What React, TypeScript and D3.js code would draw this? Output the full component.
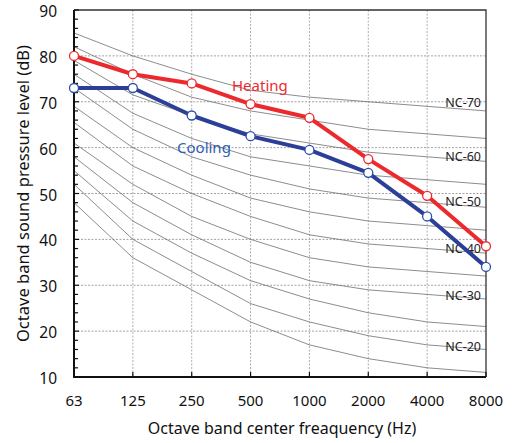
import React from "react";
import * as d3 from "d3";

const frequencies = ["63", "125", "250", "500", "1000", "2000", "4000", "8000"];
const heating = [80, 76, 74, 69.5, 66.5, 57.5, 49.5, 38.5];
const cooling = [73, 73, 67, 62.5, 59.5, 54.5, 45, 34];
const ncNames = ["NC-15", "NC-20", "NC-25", "NC-30", "NC-35", "NC-40", "NC-45", "NC-50", "NC-55", "NC-60", "NC-65", "NC-70"];
const ncValues = [
  [48, 36, 29, 22, 17, 14, 12, 11],
  [52, 40, 33, 26, 22, 19, 17, 16],
  [55, 44, 37, 31, 27, 24, 22, 21],
  [58, 48, 41, 35, 31, 29, 28, 27],
  [61, 52, 45, 40, 36, 34, 33, 32],
  [65.5, 56, 50, 45, 41, 39, 38, 37],
  [69, 60, 54, 49, 46, 44, 43, 42],
  [73, 64, 58, 54, 51, 49, 48, 47],
  [76, 67.5, 62, 58, 56, 54, 53, 52],
  [79, 71.5, 67, 63, 61, 59, 58, 57],
  [82, 76, 71, 68, 66, 64, 63, 62],
  [85, 80, 76, 72.5, 71, 70, 69, 68],
];
const ncLabels = ["NC-20", "NC-30", "NC-40", "NC-50", "NC-60", "NC-70"];
const ncLabelY = [16.6, 27.7, 38.1, 48.2, 58, 69.9];
const yTicks = [10, 20, 30, 40, 50, 60, 70, 80, 90];

const W = 513, H = 443;
const m = { left: 74, right: 486, top: 10, bottom: 377 };
const FONT = "'Noto Sans', 'Open Sans', sans-serif";

export default function App() {
  const x = d3.scalePoint<string>().domain(frequencies).range([m.left, m.right]).padding(0);
  const y = d3.scaleLinear().domain([10, 90]).range([m.bottom, m.top]);
  const line = d3.line<number>().x((_, i) => x(frequencies[i]) as number).y((d) => y(d));
  const minor = d3.range(10, 91, 2);

  return (
    <svg width={W} height={H} style={{ position: "absolute", left: 0, top: 0, background: "#fff" }} fontFamily={FONT}>
      {/* grid */}
      {yTicks.slice(1, -1).map((t) => (
        <line key={"gy" + t} x1={m.left} x2={m.right} y1={y(t)} y2={y(t)} stroke="#8a8a8a" strokeWidth={0.8} strokeDasharray="2,1.5" />
      ))}
      {frequencies.slice(1, -1).map((f) => (
        <line key={"gx" + f} x1={x(f)} x2={x(f)} y1={m.top} y2={m.bottom} stroke="#9a9a9a" strokeWidth={0.8} strokeDasharray="2,1.5" />
      ))}
      {/* NC curves */}
      {ncValues.map((vals, i) => (
        <path key={ncNames[i]} d={line(vals) || ""} fill="none" stroke="#6e6e6e" strokeWidth={0.8} />
      ))}
      {ncLabels.map((l, i) => (
        <text key={l} x={481} y={y(ncLabelY[i])} textAnchor="end" dominantBaseline="central" fontSize={12.5} fill="#222">{l}</text>
      ))}
      {/* frame */}
      <path d={`M${m.left},${m.top}H${m.right}V${m.bottom}`} fill="none" stroke="#333" strokeWidth={1.3} />
      <path d={`M${m.left},${m.top}V${m.bottom}H${m.right}`} fill="none" stroke="#111" strokeWidth={2} />
      {/* ticks */}
      {minor.map((t) => (
        <line key={"yt" + t} x1={m.left} x2={m.left + (t % 10 === 0 ? 5 : 4)} y1={y(t)} y2={y(t)} stroke="#111" strokeWidth={1.2} />
      ))}
      {frequencies.map((f) => (
        <line key={"xt" + f} x1={x(f)} x2={x(f)} y1={m.bottom} y2={m.bottom - 5} stroke="#111" strokeWidth={1.2} />
      ))}
      {yTicks.map((t) => (
        <text key={"yl" + t} x={m.left - 17} y={y(t) + 1} textAnchor="end" dominantBaseline="central" fontSize={15.5} fill="#111">{t}</text>
      ))}
      {frequencies.map((f) => (
        <text key={"xl" + f} x={x(f)} y={400} textAnchor="middle" dominantBaseline="central" fontSize={15} fill="#111">{f}</text>
      ))}
      <text x={282} y={428} textAnchor="middle" dominantBaseline="central" fontSize={16} fill="#111">Octave band center freaquency (Hz)</text>
      <text transform={`translate(22,${(m.top + m.bottom) / 2}) rotate(-90)`} textAnchor="middle" dominantBaseline="central" fontSize={16.5} fill="#111">Octave band sound pressure level (dB)</text>
      {/* series */}
      <path d={line(cooling) || ""} fill="none" stroke="#2b3f98" strokeWidth={4} strokeLinejoin="round" />
      <path d={line(heating) || ""} fill="none" stroke="#ec2a2e" strokeWidth={4} strokeLinejoin="round" />
      {cooling.map((v, i) => (
        <circle key={"c" + i} cx={x(frequencies[i])} cy={y(v)} r={4.5} fill="#fff" stroke="#2b4fa8" strokeWidth={1.3} />
      ))}
      {heating.map((v, i) => (
        <circle key={"h" + i} cx={x(frequencies[i])} cy={y(v)} r={4.5} fill="#fff" stroke="#ec2a2e" strokeWidth={1.3} />
      ))}
      <text x={232} y={85} fontSize={15} fill="#ec2a2e" dominantBaseline="central">Heating</text>
      <text x={177} y={147} fontSize={15} fill="#2f5fb0" dominantBaseline="central">Cooling</text>
    </svg>
  );
}
